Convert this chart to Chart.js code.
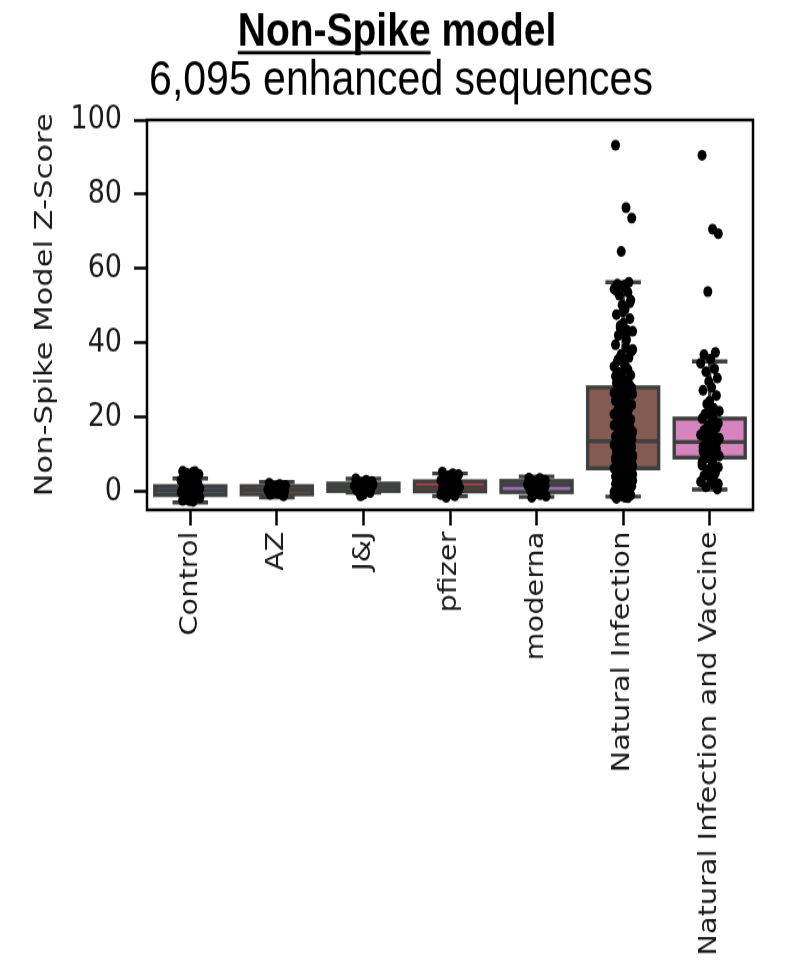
<!DOCTYPE html>
<html>
<head>
<meta charset="utf-8">
<script src="https://cdn.jsdelivr.net/npm/chart.js@4.4.1/dist/chart.umd.min.js"></script>
<style>
body { margin: 0; background: #fff; }
</style>
</head>
<body>
<!-- drawn at 811px tall and stretched to 973px, like the source figure -->
<canvas id="chart" width="789" height="811" style="display:block;width:789px;height:973px"></canvas>
<script>
// Groups on the x-axis
const groups = ['Control', 'AZ', 'J&J', 'pfizer', 'moderna', 'Natural Infection', 'Natural Infection and Vaccine'];

// Y-axis tick values
const yTicks = [0, 20, 40, 60, 80, 100];

// Box statistics per group
const q1 = [-1.0, -0.8, 0.1, 0.0, -0.2, 6.2, 9.1];
const medians = [0.2, 0.3, 1.1, 1.1, 1.8, 13.5, 13.3];
const q3 = [1.4, 1.4, 2.1, 2.7, 2.8, 28.0, 19.6];
const whiskLow = [-3.0, -1.6, -0.3, -1.3, -1.5, -1.4, 0.5];
const whiskHigh = [3.5, 2.5, 3.4, 4.8, 4.0, 56.3, 35.0];

// Box fill colours (seaborn desaturated tab10)
const boxColors = ['#3274a1', '#e1812c', '#3a923a', '#c03d3e', '#9372b2', '#845b53', '#d684bd'];

// Individual Z-scores per group
const controlPts = [5.4, 5.2, 4.6, 4.1, 3.8, 3.5, 3.2, 2.9, 2.6, 2.4, 2.1, 1.9, 1.7, 1.5, 1.3, 1.2, 1.0, 0.9, 0.8, 0.6,
  0.5, 0.4, 0.3, 0.2, 0.1, 0.0, -0.1, -0.2, -0.3, -0.4, -0.5, -0.6, -0.7, -0.8, -0.9, -1.0, -1.1, -1.3, -1.5, -1.7,
  -1.9, -2.1, -2.4, -2.7, 0.7, 1.1, -0.2, 0.4, 2.0, 3.0, 5.3, 4.9, 4.4, -2.5, -1.2, 1.6, 2.7, 0.3];
const azPts = [2.2, 1.9, 1.6, 1.3, 1.1, 0.9, 0.7, 0.5, 0.3, 0.1, -0.1, -0.3, -0.5, -0.8, -1.2, 0.6, 1.0];
const jjPts = [3.4, 3.0, 2.7, 2.4, 2.1, 1.9, 1.7, 1.5, 1.3, 1.1, 0.9, 0.7, 0.5, 0.2, -0.3, -0.8, -1.2, 1.2, 1.8];
const pfizerPts = [5.2, 4.8, 4.5, 4.2, 3.9, 3.6, 3.3, 3.0, 2.8, 2.6, 2.4, 2.2, 2.0, 1.8, 1.6, 1.4, 1.2, 1.1, 1.0, 0.9,
  0.8, 0.6, 0.5, 0.3, 0.1, -0.1, -0.3, -0.6, -0.9, -1.2, -1.6, 1.5, 2.5, 0.7, 3.5, 4.0, -0.4, 2.1];
const modernaPts = [3.6, 3.3, 3.0, 2.7, 2.5, 2.2, 2.0, 1.8, 1.6, 1.4, 1.2, 1.0, 0.8, 0.5, 0.2, -0.1, -0.5, -0.9, -1.3,
  -1.6, 3.5, 2.9, 0.0, 1.5, -0.7];
const naturalPts = [93.2, 76.4, 73.6, 64.6,
  56.3, 55.8, 55.2, 54.5, 53.6, 52.8, 51.5, 50.2, 49.0, 47.6, 46.5, 45.2, 44.0, 43.4, 43.1, 42.0, 40.8, 39.5, 38.6,
  37.8, 36.9, 36.0, 35.1, 34.3, 33.6, 32.8, 32.0, 31.3, 30.6, 29.9, 29.2, 28.6, 28.0, 27.4, 26.8, 26.2, 25.6, 25.0,
  24.4, 23.8, 23.3, 22.8, 22.3, 21.8, 21.3, 20.8, 20.3, 19.8, 19.3, 18.8, 18.4, 18.0, 17.6, 17.2, 16.8, 16.4, 16.0,
  15.6, 15.2, 14.8, 14.4, 14.0, 13.7, 13.4, 13.1, 12.8, 12.5, 12.2, 11.9, 11.6, 11.3, 11.0, 10.7, 10.4, 10.1, 9.8,
  9.5, 9.2, 8.9, 8.6, 8.3, 8.0, 7.7, 7.4, 7.1, 6.8, 6.5, 6.2, 5.9, 5.6, 5.3, 5.0, 4.7, 4.4, 4.1, 3.8, 3.5, 3.2, 2.9,
  2.6, 2.3, 2.0, 1.7, 1.4, 1.1, 0.8, 0.5, 0.2, -0.1, -0.4, -0.7, -1.0, -1.3, -1.6, -1.9, 3.0, 1.5, 0.0, 2.2, 4.6,
  6.0, 7.5, 9.0, 10.5, 12.0, 14.5, 17.0, 20.0, 24.0, 26.5, 11.4, 8.4, 5.5, 1.0,
  55.6, 54.0, 50.8, 48.4, 44.6, 42.6, 38.2, 35.6, 33.2, 31.0, 29.5, 27.8, 25.3, 23.0, 21.0, 19.0, 17.8, 16.2, 15.0,
  13.9, 12.9, 12.0, 11.1, 10.2, 9.3, 8.5, 7.6, 6.7, 5.8, 4.9, 4.0, 3.3, 2.5, 1.8, 0.9, 0.3, -0.5, -1.1, -1.7,
  6.4, 5.2, 3.6, 2.7, 1.2, 0.6, -0.2, 4.3, 7.9, 9.7];
const naturalVacPts = [90.5, 70.6, 69.4, 53.8, 37.4, 36.8, 35.6, 34.5, 33.0, 32.2, 30.5, 29.6, 28.0, 27.2, 25.8, 24.3,
  23.5, 22.4, 21.6, 20.8, 20.2, 19.6, 19.0, 18.3, 17.7, 17.0, 16.4, 15.8, 15.2, 14.6, 14.0, 13.5, 13.0, 12.5, 12.0,
  11.5, 11.0, 10.5, 10.0, 9.5, 9.0, 8.4, 7.8, 7.2, 6.5, 5.8, 5.0, 4.2, 3.4, 2.6, 1.8, 1.2, 0.6, 15.5, 12.8, 10.8,
  17.2, 8.8, 21.0, 3.0, 14.3, 11.8, 9.8, 7.0, 5.4, 2.0];

const groupPts = [controlPts, azPts, jjPts, pfizerPts, modernaPts, naturalPts, naturalVacPts];

// fixed strip jitter, as a fraction of the max spread
const jitter = [-0.8, 0.3, 0.9, -0.2, 0.6, -0.6, 0.1, -0.95, 0.5, -0.4, 0.8, -0.1, 0.2, -0.7, 0.7, 0.0, -0.3, 0.4, 1.0, -0.5, 0.35];
const jitterWidth = 0.11;

const stripData = [];
groupPts.forEach((pts, g) => {
  pts.forEach((v, k) => {
    stripData.push({ x: g + jitter[k % jitter.length] * jitterWidth, y: v });
  });
});

const textColor = '#1a1a1a';

// boxes + whiskers, drawn under the points
const boxPlugin = {
  id: 'boxes',
  beforeDatasetsDraw(chart) {
    const { ctx, scales: { x, y } } = chart;
    const half = (x.getPixelForValue(1) - x.getPixelForValue(0)) * 0.41;
    ctx.save();
    ctx.lineWidth = 3.4;
    ctx.strokeStyle = '#3f3f3f';
    groups.forEach((g, i) => {
      const cx = x.getPixelForValue(i);
      const top = y.getPixelForValue(q3[i]);
      const bot = y.getPixelForValue(q1[i]);
      const hi = y.getPixelForValue(whiskHigh[i]);
      const lo = y.getPixelForValue(whiskLow[i]);
      ctx.beginPath();
      ctx.moveTo(cx, top); ctx.lineTo(cx, hi);
      ctx.moveTo(cx, bot); ctx.lineTo(cx, lo);
      ctx.moveTo(cx - half / 2, hi); ctx.lineTo(cx + half / 2, hi);
      ctx.moveTo(cx - half / 2, lo); ctx.lineTo(cx + half / 2, lo);
      ctx.stroke();
      ctx.fillStyle = boxColors[i];
      ctx.fillRect(cx - half, top, half * 2, bot - top);
      ctx.strokeRect(cx - half, top, half * 2, bot - top);
      const m = y.getPixelForValue(medians[i]);
      ctx.beginPath();
      ctx.moveTo(cx - half, m); ctx.lineTo(cx + half, m);
      ctx.stroke();
    });
    ctx.restore();
  }
};

// axes frame, y title and the two-line title
const framePlugin = {
  id: 'frame',
  afterDraw(chart) {
    const { ctx, chartArea: a } = chart;
    ctx.save();
    ctx.strokeStyle = '#000';
    ctx.lineWidth = 2.5;
    ctx.strokeRect(a.left, a.top, a.right - a.left, a.bottom - a.top);

    // y-axis title
    ctx.save();
    ctx.translate(45, 254);
    ctx.rotate(-Math.PI / 2);
    ctx.fillStyle = textColor;
    ctx.font = '25.5px "DejaVu Sans"';
    ctx.textAlign = 'center';
    ctx.textBaseline = 'middle';
    ctx.fillText('Non-Spike Model Z-Score', 0, 0);
    ctx.restore();

    const cx = 397;
    ctx.fillStyle = '#000';
    ctx.textBaseline = 'alphabetic';
    ctx.textAlign = 'left';
    ctx.font = 'bold 39px "Liberation Sans", Arial, sans-serif';
    const part1 = 'Non-Spike';
    const part2 = ' model';
    const w1 = ctx.measureText(part1).width;
    const w2 = ctx.measureText(part2).width;
    const x0 = cx - (w1 + w2) / 2;
    ctx.fillText(part1, x0, 37.5);
    ctx.fillText(part2, x0 + w1, 37.5);
    ctx.fillRect(x0, 42.5, w1, 2.8);

    ctx.font = '41px "Liberation Sans", Arial, sans-serif';
    ctx.textAlign = 'center';
    ctx.fillText('6,095 enhanced sequences', cx + 4, 79);
    ctx.restore();
  }
};

const ctx = document.getElementById('chart').getContext('2d');
new Chart(ctx, {
  type: 'scatter',
  data: {
    datasets: [{
      label: 'scores',
      data: stripData,
      backgroundColor: '#000',
      borderWidth: 0,
      pointRadius: 4.5,
      pointHoverRadius: 4.5,
    }],
  },
  options: {
    responsive: false,
    devicePixelRatio: 1,
    animation: false,
    events: [],
    layout: { padding: { top: 100, left: 0, right: 36, bottom: 0 } },
    plugins: { legend: { display: false }, tooltip: { enabled: false } },
    scales: {
      x: {
        type: 'linear',
        min: -0.5,
        max: 6.5,
        afterBuildTicks(scale) { scale.ticks = groups.map((g, i) => ({ value: i })); },
        afterFit(scale) { scale.height = 386; },
        border: { display: false },
        grid: { display: true, drawOnChartArea: false, tickLength: 13, tickWidth: 2.5, tickColor: '#000' },
        ticks: {
          autoSkip: false,
          minRotation: 90,
          maxRotation: 90,
          padding: 5,
          color: textColor,
          font: { family: '"DejaVu Sans"', size: 24 },
          callback: (v) => groups[v],
        },
      },
      y: {
        min: -5,
        max: 100,
        afterBuildTicks(scale) { scale.ticks = yTicks.map(v => ({ value: v })); },
        afterFit(scale) { scale.width = 147; },
        border: { display: false },
        grid: { display: true, drawOnChartArea: false, tickLength: 13, tickWidth: 2.5, tickColor: '#000' },
        ticks: {
          padding: 12,
          color: textColor,
          font: { family: '"DejaVu Sans"', size: 27 },
        },
      },
    },
  },
  plugins: [boxPlugin, framePlugin],
});
</script>
</body>
</html>
